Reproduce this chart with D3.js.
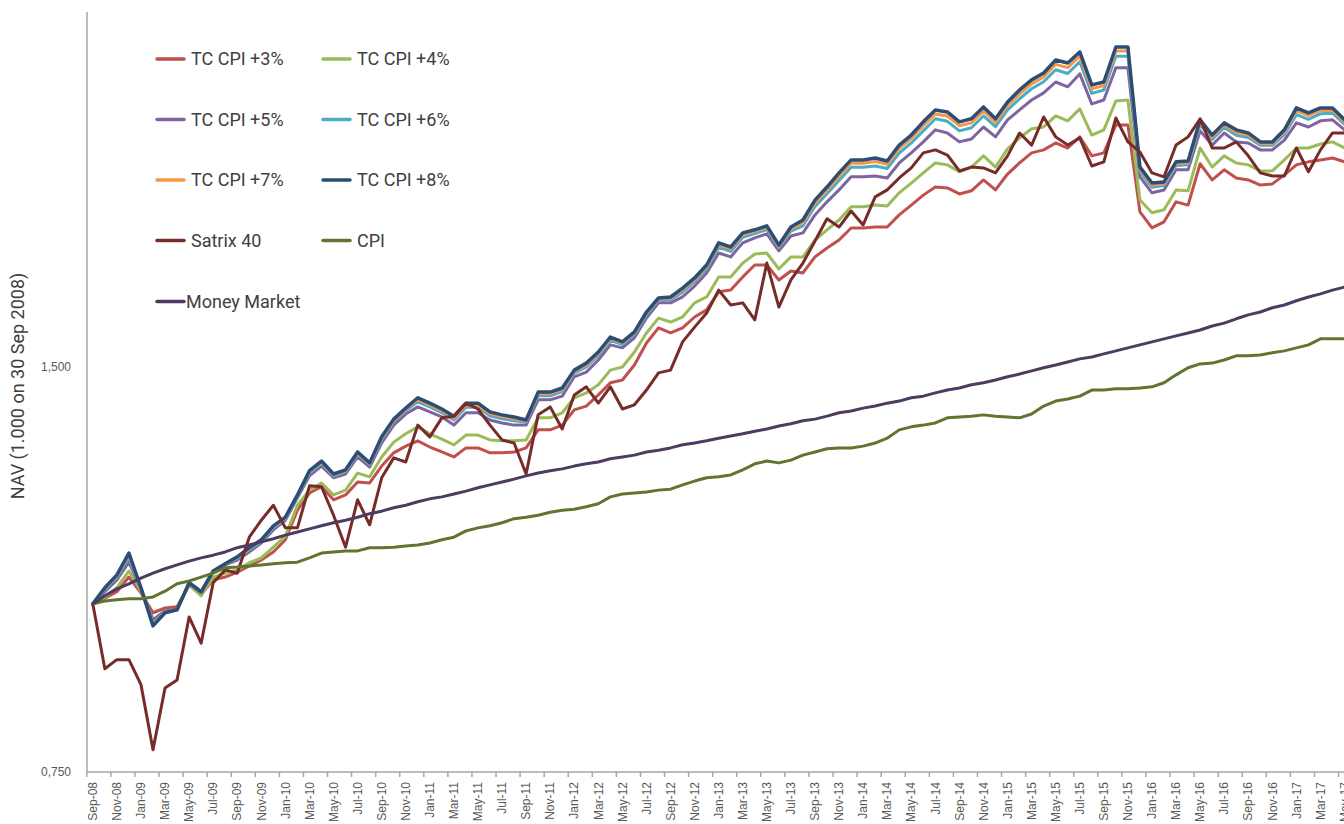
<!DOCTYPE html>
<html>
<head>
<meta charset="utf-8">
<script src="https://cdn.jsdelivr.net/npm/d3@7"></script>
<style>
  body { margin: 0; background: #fff; overflow: hidden; }
  svg { display: block; font-family: Roboto, "Open Sans", sans-serif; }
  .axis text { fill: #595959; font-size: 12px; }
  .legend text { fill: #404040; font-size: 18px; }
</style>
</head>
<body>
<svg id="chart" width="1344" height="824"></svg>
<script>
var months = ['Sep-08','Oct-08','Nov-08','Dec-08','Jan-09','Feb-09','Mar-09','Apr-09','May-09','Jun-09',
  'Jul-09','Aug-09','Sep-09','Oct-09','Nov-09','Dec-09','Jan-10','Feb-10','Mar-10','Apr-10',
  'May-10','Jun-10','Jul-10','Aug-10','Sep-10','Oct-10','Nov-10','Dec-10','Jan-11','Feb-11',
  'Mar-11','Apr-11','May-11','Jun-11','Jul-11','Aug-11','Sep-11','Oct-11','Nov-11','Dec-11',
  'Jan-12','Feb-12','Mar-12','Apr-12','May-12','Jun-12','Jul-12','Aug-12','Sep-12','Oct-12',
  'Nov-12','Dec-12','Jan-13','Feb-13','Mar-13','Apr-13','May-13','Jun-13','Jul-13','Aug-13',
  'Sep-13','Oct-13','Nov-13','Dec-13','Jan-14','Feb-14','Mar-14','Apr-14','May-14','Jun-14',
  'Jul-14','Aug-14','Sep-14','Oct-14','Nov-14','Dec-14','Jan-15','Feb-15','Mar-15','Apr-15',
  'May-15','Jun-15','Jul-15','Aug-15','Sep-15','Oct-15','Nov-15','Dec-15','Jan-16','Feb-16',
  'Mar-16','Apr-16','May-16','Jun-16','Jul-16','Aug-16','Sep-16','Oct-16','Nov-16','Dec-16',
  'Jan-17','Feb-17','Mar-17','Apr-17','May-17'];

var tc3 = [1.000,1.010,1.021,1.047,1.019,0.985,0.993,0.995,1.033,1.016,
  1.042,1.047,1.056,1.067,1.078,1.093,1.116,1.174,1.209,1.222,
  1.195,1.205,1.232,1.230,1.266,1.295,1.310,1.322,1.308,1.297,
  1.286,1.306,1.306,1.295,1.295,1.297,1.306,1.347,1.347,1.358,
  1.394,1.403,1.430,1.460,1.467,1.505,1.563,1.604,1.590,1.604,
  1.634,1.654,1.706,1.711,1.750,1.786,1.786,1.741,1.768,1.762,
  1.811,1.839,1.864,1.903,1.903,1.906,1.906,1.946,1.979,2.013,
  2.041,2.038,2.017,2.028,2.066,2.031,2.087,2.127,2.164,2.175,
  2.201,2.182,2.224,2.153,2.164,2.270,2.270,1.956,1.903,1.923,
  1.990,1.979,2.124,2.066,2.102,2.073,2.066,2.048,2.052,2.084,
  2.120,2.131,2.138,2.145,2.131];

var tc4 = [1.000,1.012,1.028,1.058,1.022,0.973,0.988,0.991,1.033,1.014,
  1.047,1.054,1.060,1.073,1.082,1.102,1.123,1.184,1.215,1.230,
  1.205,1.215,1.251,1.243,1.286,1.319,1.338,1.354,1.338,1.326,
  1.313,1.335,1.335,1.324,1.322,1.322,1.324,1.375,1.375,1.387,
  1.423,1.435,1.455,1.492,1.500,1.539,1.590,1.631,1.620,1.634,
  1.674,1.691,1.750,1.750,1.792,1.820,1.823,1.774,1.811,1.811,
  1.864,1.897,1.929,1.973,1.973,1.979,1.976,2.021,2.055,2.091,
  2.127,2.120,2.095,2.112,2.153,2.112,2.179,2.220,2.255,2.262,
  2.305,2.286,2.333,2.231,2.251,2.365,2.369,1.996,1.953,1.963,
  2.031,2.028,2.182,2.112,2.153,2.127,2.120,2.098,2.098,2.138,
  2.182,2.182,2.197,2.205,2.182];

var tc5 = [1.000,1.021,1.042,1.074,1.026,0.973,0.988,0.991,1.035,1.019,
  1.056,1.069,1.078,1.093,1.110,1.135,1.154,1.199,1.245,1.266,
  1.241,1.249,1.286,1.264,1.317,1.358,1.384,1.401,1.389,1.377,
  1.358,1.387,1.387,1.370,1.363,1.358,1.358,1.418,1.418,1.427,
  1.475,1.487,1.518,1.558,1.550,1.577,1.631,1.674,1.674,1.691,
  1.723,1.762,1.823,1.811,1.855,1.871,1.884,1.830,1.877,1.887,
  1.946,1.990,2.031,2.077,2.077,2.080,2.073,2.127,2.164,2.205,
  2.251,2.239,2.205,2.216,2.262,2.224,2.290,2.329,2.369,2.398,
  2.443,2.423,2.477,2.353,2.369,2.503,2.503,2.077,2.021,2.031,
  2.102,2.102,2.247,2.193,2.239,2.205,2.201,2.175,2.175,2.212,
  2.278,2.262,2.286,2.290,2.251];

var tc6 = [1.000,1.025,1.047,1.083,1.027,0.968,0.986,0.990,1.036,1.020,
  1.057,1.070,1.081,1.097,1.113,1.139,1.157,1.202,1.251,1.272,
  1.245,1.254,1.292,1.269,1.325,1.366,1.392,1.413,1.401,1.387,
  1.370,1.400,1.400,1.380,1.373,1.368,1.365,1.428,1.428,1.438,
  1.484,1.500,1.530,1.570,1.559,1.586,1.640,1.682,1.683,1.705,
  1.736,1.775,1.841,1.828,1.873,1.885,1.898,1.840,1.893,1.910,
  1.974,2.018,2.064,2.111,2.111,2.116,2.107,2.163,2.201,2.247,
  2.294,2.284,2.247,2.259,2.305,2.263,2.329,2.374,2.415,2.444,
  2.495,2.479,2.529,2.396,2.410,2.553,2.553,2.096,2.040,2.046,
  2.118,2.120,2.271,2.214,2.260,2.230,2.222,2.192,2.192,2.233,
  2.310,2.292,2.314,2.316,2.272];

var tc7 = [1.000,1.027,1.049,1.088,1.028,0.965,0.986,0.990,1.037,1.021,
  1.058,1.071,1.083,1.099,1.115,1.141,1.159,1.204,1.254,1.275,
  1.247,1.256,1.295,1.271,1.328,1.369,1.395,1.419,1.406,1.392,
  1.375,1.405,1.405,1.385,1.378,1.373,1.368,1.433,1.433,1.443,
  1.489,1.505,1.535,1.575,1.563,1.590,1.645,1.685,1.688,1.712,
  1.742,1.781,1.849,1.836,1.881,1.892,1.905,1.844,1.900,1.921,
  1.986,2.031,2.079,2.126,2.126,2.132,2.122,2.180,2.218,2.267,
  2.313,2.305,2.267,2.278,2.325,2.280,2.347,2.394,2.435,2.464,
  2.518,2.504,2.553,2.415,2.428,2.576,2.576,2.105,2.048,2.053,
  2.125,2.128,2.281,2.223,2.270,2.242,2.231,2.199,2.199,2.243,
  2.325,2.306,2.327,2.328,2.282];

var tc8 = [1.000,1.028,1.051,1.091,1.028,0.963,0.985,0.990,1.037,1.021,
  1.058,1.071,1.084,1.101,1.116,1.143,1.160,1.205,1.256,1.277,
  1.249,1.258,1.297,1.273,1.331,1.372,1.398,1.423,1.410,1.396,
  1.379,1.410,1.410,1.389,1.382,1.377,1.370,1.437,1.437,1.447,
  1.492,1.510,1.539,1.579,1.566,1.593,1.648,1.688,1.691,1.717,
  1.747,1.786,1.855,1.842,1.887,1.897,1.910,1.848,1.906,1.929,
  1.996,2.041,2.091,2.138,2.138,2.145,2.134,2.193,2.231,2.282,
  2.329,2.321,2.282,2.294,2.341,2.294,2.361,2.410,2.452,2.481,
  2.537,2.524,2.572,2.431,2.443,2.594,2.594,2.112,2.055,2.059,
  2.131,2.134,2.290,2.231,2.278,2.251,2.239,2.205,2.205,2.251,
  2.337,2.317,2.337,2.337,2.290];

var satrix40 = [1.000,0.895,0.909,0.909,0.871,0.779,0.866,0.878,0.978,0.935,
  1.037,1.060,1.054,1.121,1.154,1.184,1.139,1.139,1.224,1.222,
  1.164,1.102,1.195,1.145,1.241,1.284,1.275,1.358,1.331,1.375,
  1.379,1.410,1.396,1.358,1.324,1.317,1.249,1.382,1.401,1.349,
  1.430,1.450,1.410,1.450,1.396,1.406,1.442,1.485,1.492,1.566,
  1.606,1.645,1.711,1.668,1.674,1.626,1.792,1.662,1.741,1.792,
  1.861,1.933,1.906,1.959,1.913,2.007,2.031,2.073,2.109,2.164,
  2.175,2.156,2.098,2.112,2.109,2.091,2.153,2.239,2.193,2.301,
  2.224,2.193,2.220,2.116,2.131,2.297,2.205,2.167,2.091,2.077,
  2.193,2.224,2.294,2.182,2.182,2.205,2.153,2.091,2.080,2.080,
  2.182,2.095,2.175,2.239,2.239];

var cpi = [1.000,1.005,1.007,1.009,1.009,1.012,1.022,1.035,1.040,1.047,
  1.054,1.064,1.065,1.067,1.069,1.071,1.073,1.074,1.082,1.091,
  1.093,1.095,1.095,1.101,1.101,1.102,1.104,1.106,1.110,1.116,
  1.121,1.133,1.139,1.143,1.149,1.157,1.160,1.164,1.170,1.174,
  1.176,1.181,1.187,1.201,1.207,1.209,1.211,1.215,1.217,1.226,
  1.234,1.241,1.243,1.247,1.258,1.271,1.277,1.273,1.279,1.290,
  1.297,1.304,1.306,1.306,1.310,1.317,1.328,1.347,1.354,1.358,
  1.363,1.375,1.377,1.379,1.382,1.379,1.377,1.375,1.384,1.403,
  1.415,1.420,1.427,1.442,1.442,1.445,1.445,1.447,1.450,1.460,
  1.480,1.498,1.508,1.510,1.518,1.529,1.529,1.531,1.537,1.542,
  1.550,1.558,1.574,1.574,1.574];

var moneyMarket = [1.000,1.014,1.026,1.035,1.045,1.054,1.062,1.069,1.076,1.082,
  1.087,1.093,1.101,1.106,1.112,1.118,1.125,1.131,1.137,1.143,
  1.149,1.154,1.160,1.167,1.172,1.179,1.184,1.191,1.197,1.201,
  1.207,1.213,1.220,1.226,1.232,1.238,1.245,1.251,1.256,1.260,
  1.266,1.271,1.275,1.282,1.286,1.290,1.297,1.301,1.306,1.313,
  1.317,1.322,1.328,1.333,1.338,1.344,1.349,1.356,1.361,1.368,
  1.372,1.379,1.387,1.391,1.398,1.403,1.410,1.415,1.423,1.427,
  1.435,1.442,1.447,1.455,1.460,1.467,1.475,1.482,1.490,1.498,
  1.505,1.513,1.521,1.526,1.534,1.542,1.550,1.558,1.566,1.574,
  1.582,1.590,1.598,1.609,1.617,1.629,1.640,1.648,1.660,1.668,
  1.680,1.691,1.700,1.711,1.720];

var yTicks = [0.75, 1.5];

var series = [
  { name: 'TC CPI +3%', values: tc3, color: '#c0504d', width: 3 },
  { name: 'TC CPI +4%', values: tc4, color: '#9bbb59', width: 3 },
  { name: 'TC CPI +5%', values: tc5, color: '#8064a2', width: 3 },
  { name: 'TC CPI +6%', values: tc6, color: '#4bacc6', width: 3 },
  { name: 'TC CPI +7%', values: tc7, color: '#f79646', width: 3 },
  { name: 'TC CPI +8%', values: tc8, color: '#2c4d75', width: 3.5 },
  { name: 'Satrix 40', values: satrix40, color: '#772c2a', width: 3 },
  { name: 'CPI', values: cpi, color: '#5f7530', width: 3 },
  { name: 'Money Market', values: moneyMarket, color: '#4d3b62', width: 3 }
];

var svg = d3.select('#chart');

var axisX = 87;
var axisBottom = 772;
var axisTop = 12;
var step = 12.036;

var x = d3.scaleBand()
  .domain(months)
  .range([axisX - 0.2, axisX - 0.2 + step * months.length]);

// Log scale: 0,750 sits at the bottom, 1,500 one octave up.
var y = d3.scaleLog().base(2)
  .domain([0.75, 3])
  .range([axisBottom, axisBottom - 810]);

function cx(i) { return x(months[i]) + x.bandwidth() / 2; }

// Lines, in legend order so later series draw on top.
var line = d3.line()
  .x(function(d, i) { return cx(i); })
  .y(function(d) { return y(d); });

svg.append('g')
  .selectAll('path')
  .data(series)
  .enter().append('path')
  .attr('d', function(s) { return line(s.values); })
  .attr('fill', 'none')
  .attr('stroke', function(s) { return s.color; })
  .attr('stroke-width', function(s) { return s.width; })
  .attr('stroke-linejoin', 'round')
  .attr('stroke-linecap', 'round');

// Y axis.
var yAxis = d3.axisLeft(y)
  .tickValues(yTicks)
  .tickFormat(function(d) { return d3.format('.3f')(d).replace('.', ','); })
  .tickSize(0)
  .tickPadding(16);

var gy = svg.append('g')
  .attr('class', 'axis y')
  .attr('transform', 'translate(' + axisX + ',0)')
  .call(yAxis);
gy.select('.domain').remove();

svg.append('line')
  .attr('x1', axisX).attr('x2', axisX)
  .attr('y1', axisTop).attr('y2', axisBottom)
  .attr('stroke', '#a6a6a6')
  .attr('stroke-width', 1.5);

// X axis: labels on every second month, tick marks between categories.
var xAxis = d3.axisBottom(x)
  .tickValues(months.filter(function(d, i) { return i % 2 === 0; }))
  .tickSize(0);

var gx = svg.append('g')
  .attr('class', 'axis x')
  .attr('transform', 'translate(0,' + axisBottom + ')')
  .call(xAxis);
gx.select('.domain').remove();
gx.selectAll('text')
  .attr('transform', 'rotate(-90)')
  .attr('text-anchor', 'end')
  .attr('x', -10)
  .attr('y', 0)
  .attr('dy', '0.35em');

svg.append('line')
  .attr('x1', axisX).attr('x2', 1344)
  .attr('y1', axisBottom).attr('y2', axisBottom)
  .attr('stroke', '#a6a6a6')
  .attr('stroke-width', 1.5);

svg.append('g')
  .selectAll('line')
  .data(months.filter(function(d, i) { return i % 2 === 0; }))
  .enter().append('line')
  .attr('x1', function(d) { return x(d); })
  .attr('x2', function(d) { return x(d); })
  .attr('y1', axisBottom)
  .attr('y2', axisBottom + 5)
  .attr('stroke', '#a6a6a6')
  .attr('stroke-width', 1.5);

// Y axis title.
svg.append('text')
  .attr('transform', 'translate(24,' + 386 + ') rotate(-90)')
  .attr('text-anchor', 'middle')
  .attr('fill', '#404040')
  .style('font-size', '18px')
  .text('NAV (1.000 on 30 Sep 2008)');

// Legend, two columns.
var legend = svg.append('g').attr('class', 'legend');
var colX = [157, 323];
var rowY = [59, 119.5, 180, 240.5, 301.5];

series.forEach(function(s, i) {
  var lx = colX[i % 2];
  var ly = rowY[Math.floor(i / 2)];
  legend.append('line')
    .attr('x1', lx).attr('x2', lx + 27)
    .attr('y1', ly).attr('y2', ly)
    .attr('stroke', s.color)
    .attr('stroke-width', 3.5)
    .attr('stroke-linecap', 'round');
  legend.append('text')
    .attr('x', s.name === 'Money Market' ? lx + 29 : lx + 34)
    .attr('y', ly)
    .attr('dy', '0.35em')
    .text(s.name);
});
</script>
</body>
</html>
